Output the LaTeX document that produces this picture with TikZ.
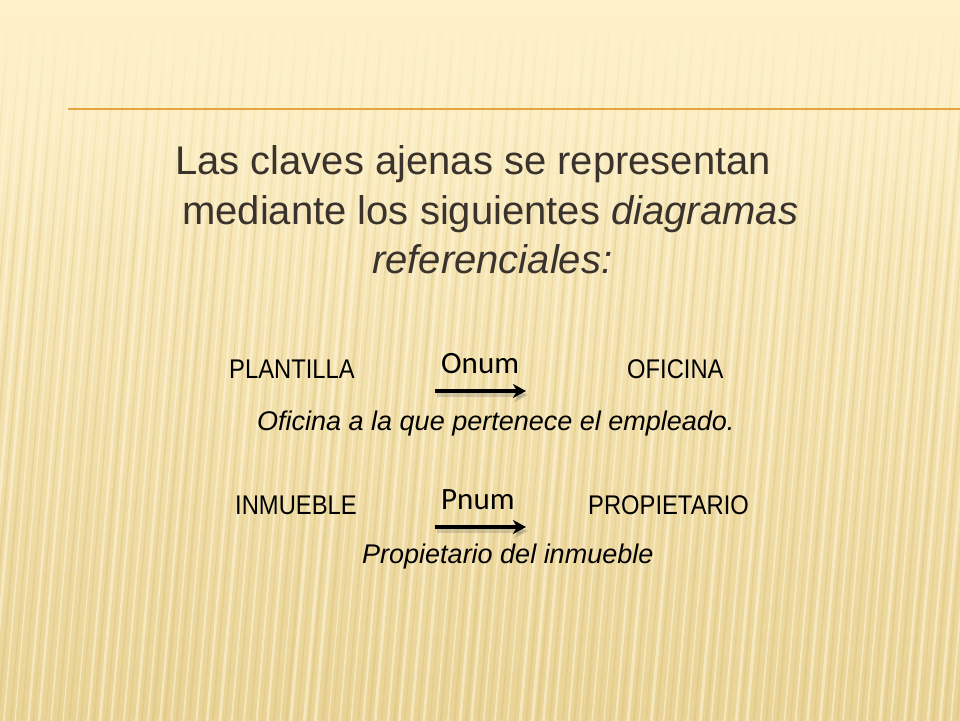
\documentclass[tikz,border=0pt]{standalone}
\usepackage{fontspec}
\setmainfont{Liberation Sans}
\newfontfamily\calib{Carlito}
\newfontfamily\narrowsans{Liberation Sans}[FakeStretch=0.88]
\usetikzlibrary{arrows.meta,fadings}
\definecolor{bgtop}{HTML}{FEF1C9}
\definecolor{bgbot}{HTML}{E9D396}
\definecolor{stripelight}{HTML}{FFF7DC}
\definecolor{stripedark}{HTML}{D6BB74}
\definecolor{rulecol}{HTML}{E6A43E}
\definecolor{titlecol}{HTML}{3A322C}
\tikzfading[name=topfade, top color=transparent!0, bottom color=transparent!100]
\tikzset{
 title/.style={anchor=base west, inner sep=0pt, text=titlecol, font=\fontsize{40}{48}\selectfont},
 entity/.style={anchor=base west, inner sep=0pt, text=black, font=\narrowsans\fontsize{27}{32}\selectfont},
 keylabel/.style={anchor=base west, inner sep=0pt, text=black, font=\calib\fontsize{31}{36}\selectfont},
 note/.style={anchor=base west, inner sep=0pt, text=black, font=\itshape\fontsize{27}{32}\selectfont},
 fkarrow/.style={line width=3.4pt, draw=black, -{Stealth[length=13pt,width=14pt,inset=4pt]}},
 fkshadow/.style={line width=4.4pt, draw=black!70, opacity=0.2, -{Stealth[length=14pt,width=15pt,inset=4pt]}},
}
\begin{document}
\begin{tikzpicture}[x=1pt,y=-1pt]
\useasboundingbox (0,0) rectangle (960,720);
% background
\shade[top color=bgtop, bottom color=bgbot] (0,0) rectangle (960,720);
\pgfmathsetseed{11}
\foreach \i in {0,...,90}{
  \pgfmathsetmacro\xa{-70+12*\i+2*rnd}
  \pgfmathsetmacro\wa{1.2+2.2*rnd}
  \draw[stripelight, opacity=0.55, line width=\wa pt] (\xa,730) -- (\xa+60,30);
  \pgfmathsetmacro\xb{-64+12*\i+2*rnd}
  \pgfmathsetmacro\wb{1.0+2.0*rnd}
  \draw[stripedark, opacity=0.3, line width=\wb pt] (\xb,730) -- (\xb+60,30);
}
\fill[bgtop, path fading=topfade] (0,0) rectangle (960,250);
% rule
\draw[rulecol, line width=2pt] (68,109) -- (730,109);
\draw[rulecol, line width=1.2pt] (730,109) -- (960,109);
% title
\node[title] (t1) at (175,174) {Las claves ajenas se representan};
\node[title] (t2) at (182,224) {mediante los siguientes \textit{diagramas}};
\node[title, font=\itshape\fontsize{40}{48}\selectfont] (t3) at (372,273) {referenciales:};
% first diagram
\node[entity] (plantilla) at (229,378) {PLANTILLA};
\node[keylabel] (onum) at (441,373) {Onum};
\node[entity] (oficina) at (627,378) {OFICINA};
\coordinate (a1s) at (435,391);
\coordinate (a1e) at (526,391);
\draw[fkshadow] ([shift={(2,4)}]a1s) -- ([shift={(2,4)}]a1e);
\draw[fkarrow] (a1s) -- (a1e);
\node[note] (n1) at (257,430) {Oficina a la que pertenece el empleado.};
% second diagram
\node[entity] (inmueble) at (235,514) {INMUEBLE};
\node[keylabel] (pnum) at (441,509) {Pnum};
\node[entity] (propietario) at (588,514) {PROPIETARIO};
\coordinate (a2s) at (435,527);
\coordinate (a2e) at (526,527);
\draw[fkshadow] ([shift={(2,4)}]a2s) -- ([shift={(2,4)}]a2e);
\draw[fkarrow] (a2s) -- (a2e);
\node[note] (n2) at (362,563) {Propietario del inmueble};
\end{tikzpicture}
\end{document}
